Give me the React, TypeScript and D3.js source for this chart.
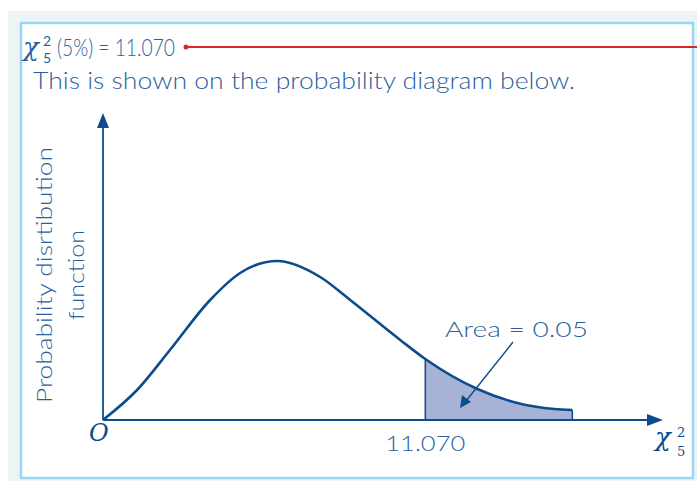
import React from "react";
import * as d3 from "d3";

const curveX = [0, 1.17, 2.3, 3.68, 4.71, 5.98, 7.46, 8.49, 10.21, 11.07, 12.86, 14.23, 15.5, 16.12];
const curveY = [0, 0.03, 0.07, 0.12, 0.147, 0.159, 0.143, 0.12, 0.08, 0.061, 0.031, 0.017, 0.011, 0.010];
const criticalValue = 11.07;
const criticalLabel = "11.070";
const areaLabel = "Area = 0.05";
const titleText = "(5%) = 11.070";
const subtitleText = "This is shown on the probability diagram below.";
const yLabel1 = "Probability disrtibution";
const yLabel2 = "function";

const BLUE = "#0d4c8c";
const TEXT = "#2a5f9e";
const FONT = "Lato, 'Open Sans', sans-serif";

export default function App() {
  const W = 697, H = 481;
  const x = d3.scaleLinear().domain([0, 19.2]).range([103, 662]);
  const y = d3.scaleLinear().domain([0, 0.307]).range([420, 113]);
  const pts: [number, number][] = curveX.map((v, i) => [v, curveY[i]]);
  const line = d3.line<[number, number]>().x(d => x(d[0])).y(d => y(d[1])).curve(d3.curveMonotoneX);
  const interp = (xv: number) => {
    for (let i = 0; i < pts.length - 1; i++) {
      if (xv >= pts[i][0] && xv <= pts[i + 1][0]) {
        const t = (xv - pts[i][0]) / (pts[i + 1][0] - pts[i][0]);
        return pts[i][1] + t * (pts[i + 1][1] - pts[i][1]);
      }
    }
    return 0;
  };
  const tail: [number, number][] = pts.filter(p => p[0] > criticalValue);
  tail.unshift([criticalValue, interp(criticalValue)]);
  const area = d3.area<[number, number]>().x(d => x(d[0])).y0(y(0)).y1(d => y(d[1])).curve(d3.curveMonotoneX);
  const xEnd = curveX[curveX.length - 1];
  const yEnd = curveY[curveY.length - 1];

  return (
    <svg width={W} height={H} style={{ position: "absolute", left: 0, top: 0 }}>
      <rect x={8} y={11} width={W - 8} height={H - 11} fill="#eef3f6" />
      <rect x={21} y={23} width={672} height={455} fill="#ffffff" stroke="#98d6f2" strokeWidth={2.5} />
      {/* title */}
      <g fill={TEXT} fontFamily={FONT} fontWeight={300}>
        <text x={23} y={56} fontSize={26} fontFamily="'DejaVu Serif', serif" fontStyle="italic" fontWeight={400}>χ</text>
        <text x={43} y={46} fontSize={14} fontWeight={400}>2</text>
        <text x={43} y={63} fontSize={14} fontWeight={400}>5</text>
        <text x={57} y={56} fontSize={24} textLength={118} lengthAdjust="spacingAndGlyphs">{titleText}</text>
        <text x={33} y={89} fontSize={24} textLength={542} lengthAdjust="spacingAndGlyphs">{subtitleText}</text>
      </g>
      <line x1={186} y1={47} x2={W} y2={47} stroke="#d9262b" strokeWidth={2} />
      <circle cx={186} cy={47} r={2.5} fill="#d9262b" />
      {/* tail area */}
      <path d={area(tail) || ""} fill="#a6b3d6" stroke="none" />
      <line x1={x(criticalValue)} x2={x(criticalValue)} y1={y(0)} y2={y(interp(criticalValue))} stroke={BLUE} strokeWidth={1.5} />
      <line x1={x(xEnd)} x2={x(xEnd)} y1={y(0)} y2={y(yEnd)} stroke={BLUE} strokeWidth={1.5} />
      {/* curve */}
      <path d={line(pts) || ""} fill="none" stroke={BLUE} strokeWidth={2.6} />
      {/* axes */}
      <line x1={x(0)} y1={y(0)} x2={x(0)} y2={126} stroke={BLUE} strokeWidth={1.8} />
      <path d={`M${x(0)},113 L${x(0) - 6},128 L${x(0) + 6},128 Z`} fill={BLUE} />
      <line x1={x(0)} y1={y(0)} x2={648} y2={y(0)} stroke={BLUE} strokeWidth={1.8} />
      <path d={`M663,${y(0)} L647,${y(0) - 6} L647,${y(0) + 6} Z`} fill={BLUE} />
      {/* annotation arrow */}
      <line x1={513} y1={342} x2={466} y2={401} stroke={BLUE} strokeWidth={1.4} />
      <path d="M460,408 L462,395 L471,402 Z" fill={BLUE} />
      <g fill={TEXT} fontFamily={FONT} fontWeight={300}>
        <text x={445} y={337} fontSize={22} textLength={143} lengthAdjust="spacingAndGlyphs">{areaLabel}</text>
        <text x={x(criticalValue)} y={451} fontSize={22} textAnchor="middle" textLength={80} lengthAdjust="spacingAndGlyphs">{criticalLabel}</text>
        <text transform="translate(52,275) rotate(-90)" fontSize={22} textAnchor="middle" textLength={256} lengthAdjust="spacingAndGlyphs">{yLabel1}</text>
        <text transform="translate(84,275) rotate(-90)" fontSize={22} textAnchor="middle" textLength={90} lengthAdjust="spacingAndGlyphs">{yLabel2}</text>
      </g>
      <text x={89} y={441} fontSize={24} fontFamily="'DejaVu Serif', serif" fontStyle="italic" fill={BLUE}>O</text>
      <g fill={BLUE} fontFamily="'DejaVu Serif', serif">
        <text x={655} y={446} fontSize={26} fontStyle="italic">χ</text>
        <text x={677} y={437} fontSize={13}>2</text>
        <text x={677} y={456} fontSize={13}>5</text>
      </g>
    </svg>
  );
}
